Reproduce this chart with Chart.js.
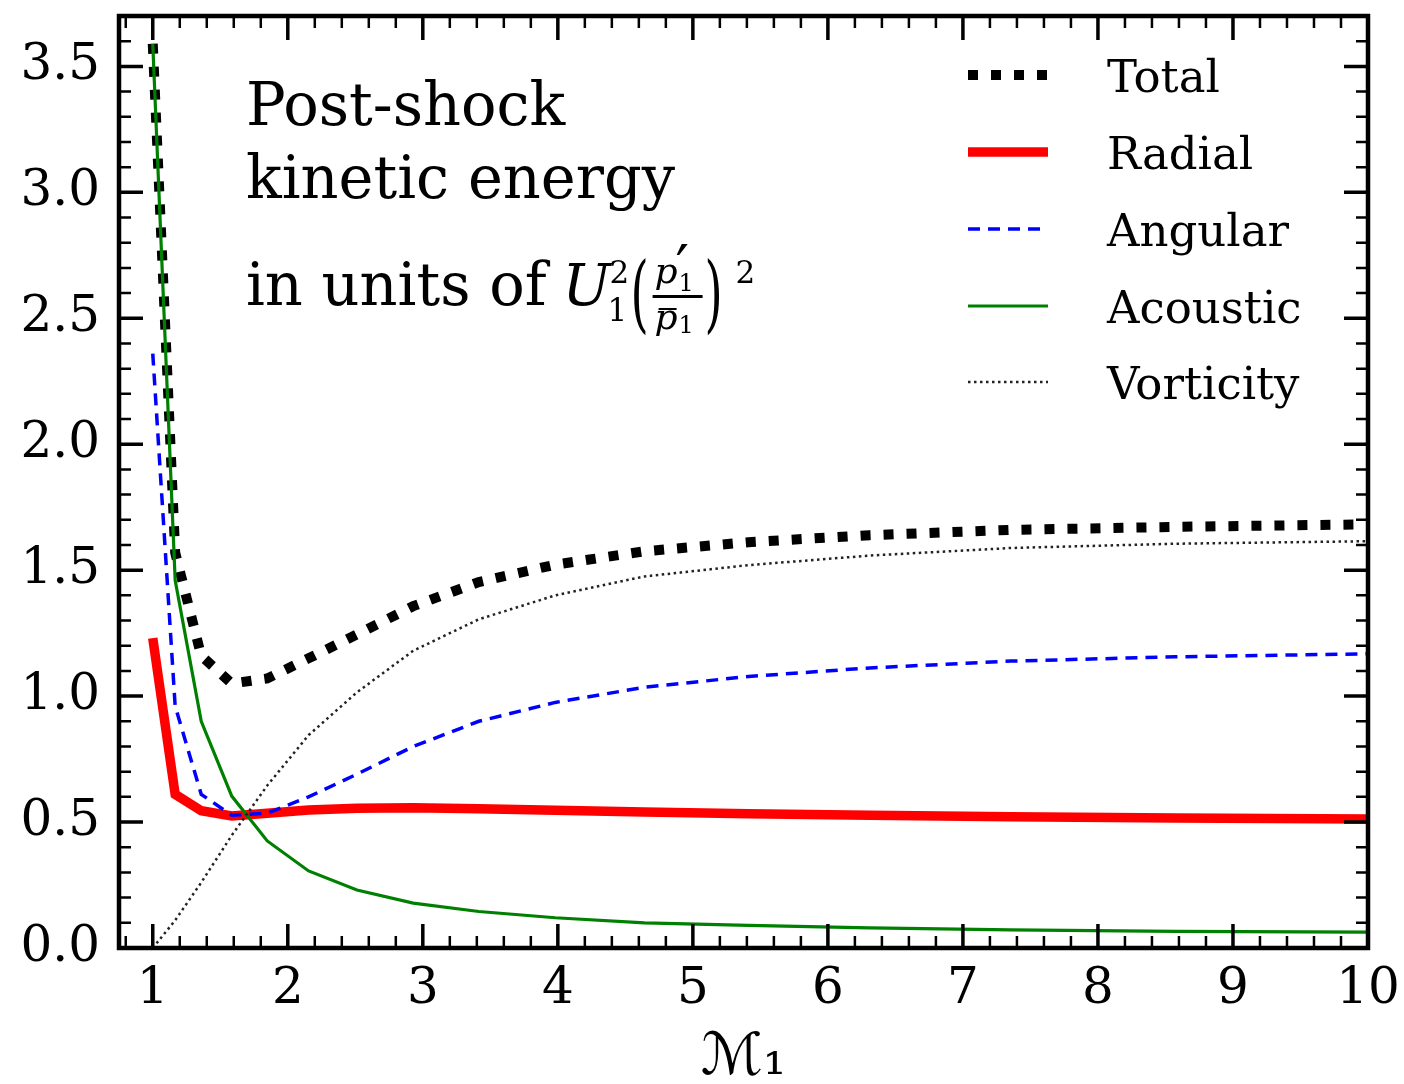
<!DOCTYPE html>
<html lang="en">
<head>
    <meta charset="UTF-8">
    <title>Post-shock kinetic energy</title>
    <style>
        body {
            margin: 0;
            background: #fff;
        }
        #chart {
            display: block;
        }
    </style>
</head>
<body>
    <canvas id="chart" width="1404" height="1084"></canvas>

    <script src="https://cdn.jsdelivr.net/npm/chart.js"></script>

    <script>
        // upstream Mach number (log-spaced samples) and energy components
        const machNumbers = [1.0, 1.166, 1.359, 1.585, 1.848, 2.154, 2.512, 2.929, 3.415, 3.981, 4.642, 5.412, 6.310, 7.356, 8.577, 10.0];
        const totalKE     = [3.59, 1.57, 1.16, 1.05, 1.07, 1.15, 1.245, 1.357, 1.453, 1.522, 1.575, 1.611, 1.639, 1.660, 1.672, 1.682];
        const radialKE    = [1.23, 0.61, 0.545, 0.524, 0.535, 0.548, 0.555, 0.557, 0.553, 0.547, 0.540, 0.533, 0.527, 0.521, 0.516, 0.512];
        const angularKE   = [2.36, 0.96, 0.61, 0.527, 0.535, 0.600, 0.690, 0.800, 0.900, 0.975, 1.035, 1.078, 1.112, 1.139, 1.156, 1.168];
        const acousticKE  = [3.59, 1.46, 0.90, 0.603, 0.425, 0.306, 0.230, 0.178, 0.145, 0.120, 0.100, 0.090, 0.080, 0.072, 0.066, 0.063];
        const vorticityKE = [0.0, 0.11, 0.26, 0.447, 0.645, 0.845, 1.015, 1.180, 1.305, 1.400, 1.475, 1.520, 1.558, 1.588, 1.605, 1.615];

        const seriesNames = ['Total', 'Radial', 'Angular', 'Acoustic', 'Vorticity'];

        const xTickValues = [1, 2, 3, 4, 5, 6, 7, 8, 9, 10];
        const xTickLabels = ['1', '2', '3', '4', '5', '6', '7', '8', '9', '10'];
        const yTickValues = [0, 0.5, 1.0, 1.5, 2.0, 2.5, 3.0, 3.5];
        const yTickLabels = ['0.0', '0.5', '1.0', '1.5', '2.0', '2.5', '3.0', '3.5'];

        const serif = "'DejaVu Serif', 'DejaVu Sans', serif";

        function points(values) {
            return machNumbers.map((m, i) => ({ x: m, y: values[i] }));
        }

        // "in units of U_1^2 (p'_1 / p-bar_1)^2"
        function drawUnits(ctx, x, y) {
            ctx.font = `59px ${serif}`;
            ctx.fillText('in units of', x, y);
            const u = x + ctx.measureText('in units of').width + 16;

            ctx.font = `italic 57px ${serif}`;
            ctx.fillText('U', u, y);
            ctx.font = `31px ${serif}`;
            ctx.fillText('2', u + 47, y - 22);
            ctx.fillText('1', u + 45, y + 16);

            const paren = (ch, px) => {
                ctx.save();
                ctx.translate(px, y + 17);
                ctx.scale(0.55, 1);
                ctx.font = `85px ${serif}`;
                ctx.fillText(ch, 0, 0);
                ctx.restore();
            };
            paren('(', u + 68);

            // numerator p'_1
            ctx.font = `italic 36px ${serif}`;
            ctx.fillText('p', u + 92, y - 22);
            ctx.font = `24px ${serif}`;
            ctx.fillText('1', u + 116, y - 14);
            ctx.font = `60px ${serif}`;
            ctx.fillText('\u2032', u + 113, y - 17);
            // fraction bar
            ctx.fillRect(u + 90, y - 10, 50, 3);
            // denominator p-bar_1
            ctx.font = `italic 36px ${serif}`;
            ctx.fillText('p', u + 92, y + 24);
            ctx.fillRect(u + 96, y + 3, 18, 2);
            ctx.font = `24px ${serif}`;
            ctx.fillText('1', u + 116, y + 28);

            paren(')', u + 142);
            ctx.font = `31px ${serif}`;
            ctx.fillText('2', u + 173, y - 22);
        }

        const overlay = {
            id: 'overlay',
            afterDatasetsDraw(chart) {
                const ctx = chart.ctx;
                const a = chart.chartArea;
                const xs = chart.scales.x;
                const ys = chart.scales.y;
                ctx.save();
                ctx.strokeStyle = '#000';
                ctx.lineCap = 'butt';

                // inward ticks on all four sides
                for (let k = Math.ceil(xs.min * 5); k <= Math.floor(xs.max * 5); k++) {
                    const major = k % 5 === 0;
                    const px = xs.getPixelForValue(k / 5);
                    const len = major ? 24 : 12;
                    ctx.lineWidth = major ? 3.5 : 2.5;
                    ctx.beginPath();
                    ctx.moveTo(px, a.bottom); ctx.lineTo(px, a.bottom - len);
                    ctx.moveTo(px, a.top); ctx.lineTo(px, a.top + len);
                    ctx.stroke();
                }
                for (let k = Math.ceil(ys.min * 10); k <= Math.floor(ys.max * 10 + 1e-6); k++) {
                    const major = k % 5 === 0;
                    const py = ys.getPixelForValue(k / 10);
                    const len = major ? 24 : 12;
                    ctx.lineWidth = major ? 3.5 : 2.5;
                    ctx.beginPath();
                    ctx.moveTo(a.left, py); ctx.lineTo(a.left + len, py);
                    ctx.moveTo(a.right, py); ctx.lineTo(a.right - len, py);
                    ctx.stroke();
                }

                // frame
                ctx.lineWidth = 4.5;
                ctx.strokeRect(a.left, a.top, a.right - a.left, a.bottom - a.top);

                // annotation
                ctx.fillStyle = '#000';
                ctx.textBaseline = 'alphabetic';
                ctx.textAlign = 'left';
                ctx.font = `59px ${serif}`;
                ctx.fillText('Post-shock', 246, 125);
                ctx.fillText('kinetic energy', 246, 198);
                drawUnits(ctx, 246, 305);

                // legend
                const rows = [75, 152, 229, 306, 382];
                chart.data.datasets.forEach((ds, i) => {
                    const y = rows[i];
                    ctx.save();
                    ctx.strokeStyle = ds.borderColor;
                    ctx.lineWidth = ds.borderWidth;
                    ctx.setLineDash(ds.borderDash || []);
                    ctx.lineCap = ds.borderDash ? 'butt' : 'square';
                    ctx.beginPath();
                    ctx.moveTo(ds.borderDash ? 968 : 968 + ds.borderWidth / 2, y);
                    ctx.lineTo(ds.borderDash ? 1048 : 1048 - ds.borderWidth / 2, y);
                    ctx.stroke();
                    ctx.restore();
                    ctx.font = `45px ${serif}`;
                    ctx.fillText(ds.label, 1107, y + 17);
                });
                ctx.restore();
            }
        };

        new Chart(document.getElementById('chart'), {
            type: 'line',
            data: {
                datasets: [
                    { label: seriesNames[0], data: points(totalKE), borderColor: '#000000', borderWidth: 10, borderDash: [10, 13], order: 4 },
                    { label: seriesNames[1], data: points(radialKE), borderColor: '#ff0000', borderWidth: 9.5, order: 3 },
                    { label: seriesNames[2], data: points(angularKE), borderColor: '#0000ff', borderWidth: 3.5, borderDash: [12, 8], order: 2 },
                    { label: seriesNames[3], data: points(acousticKE), borderColor: '#008000', borderWidth: 3.2, order: 1 },
                    { label: seriesNames[4], data: points(vorticityKE), borderColor: '#222222', borderWidth: 2.5, borderDash: [2.5, 3.5], order: 0 }
                ]
            },
            options: {
                responsive: false,
                animation: false,
                devicePixelRatio: 1,
                layout: { padding: { top: 16, right: 36, left: 0, bottom: 0 } },
                elements: {
                    point: { radius: 0 },
                    line: { tension: 0, fill: false, borderCapStyle: 'butt' }
                },
                plugins: {
                    legend: { display: false },
                    tooltip: { enabled: false }
                },
                scales: {
                    x: {
                        type: 'linear',
                        min: 0.75,
                        max: 10,
                        grid: { display: false, drawTicks: false },
                        border: { display: false },
                        afterBuildTicks: s => { s.ticks = xTickValues.map(v => ({ value: v })); },
                        afterFit: s => { s.height = 136; s.paddingLeft = 0; s.paddingRight = 0; },
                        ticks: {
                            color: '#000',
                            font: { family: serif, size: 50 },
                            padding: 12,
                            maxRotation: 0,
                            autoSkip: false,
                            callback: (v, i) => xTickLabels[i]
                        },
                        title: {
                            display: true,
                            text: '\u2133\u2081',
                            color: '#000',
                            font: { family: serif, size: 58, lineHeight: 0.85 },
                            padding: 0
                        }
                    },
                    y: {
                        min: 0,
                        max: 3.7,
                        grid: { display: false, drawTicks: false },
                        border: { display: false },
                        afterBuildTicks: s => { s.ticks = yTickValues.map(v => ({ value: v })); },
                        afterFit: s => { s.width = 119; s.paddingTop = 0; s.paddingBottom = 0; },
                        ticks: {
                            color: '#000',
                            font: { family: serif, size: 50 },
                            padding: 19,
                            callback: (v, i) => yTickLabels[i]
                        }
                    }
                }
            },
            plugins: [overlay]
        });
    </script>
</body>
</html>
